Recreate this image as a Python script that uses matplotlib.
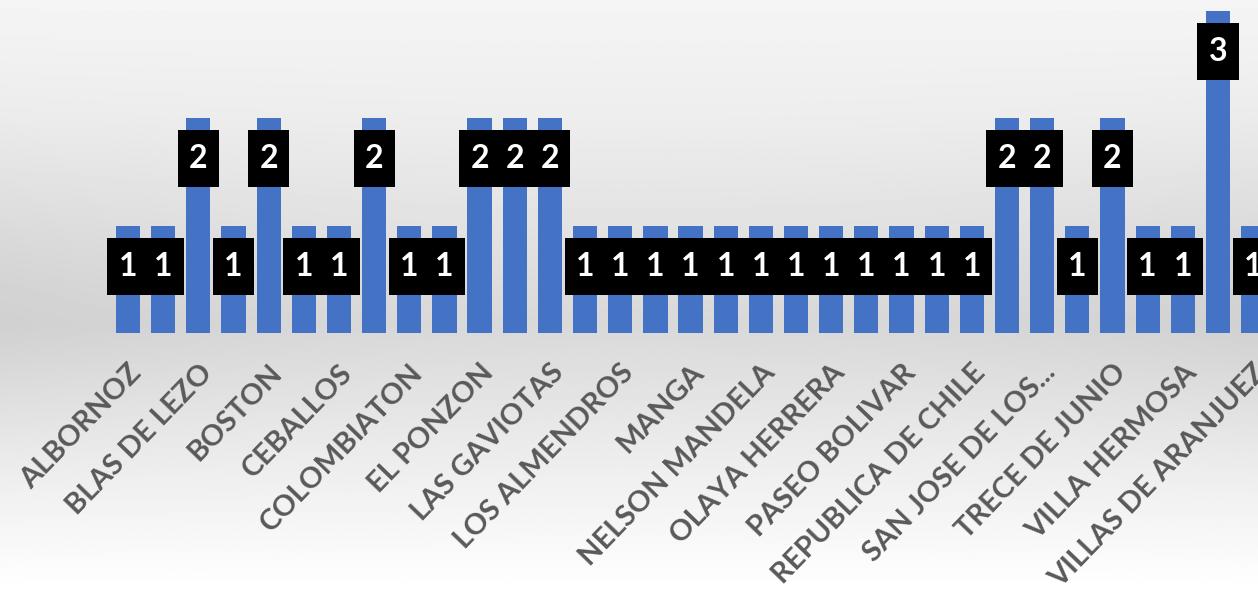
import numpy as np
import matplotlib.pyplot as plt

# barrios (every other label is hidden in the chart, those names are guesses)
barrios = ["ALBORNOZ", "BAYUNCA", "BLAS DE LEZO", "BOCAGRANDE", "BOSTON",
           "BRUSELAS", "CEBALLOS", "CHIQUINQUIRA", "COLOMBIATON", "EL BOSQUE",
           "EL PONZON", "LA ESPERANZA", "LAS GAVIOTAS", "LO AMADOR",
           "LOS ALMENDROS", "LOS CARACOLES", "MANGA", "MANZANILLO",
           "NELSON MANDELA", "NUEVO BOSQUE", "OLAYA HERRERA", "PASACABALLOS",
           "PASEO BOLIVAR", "PIE DE LA POPA", "REPUBLICA DE CHILE",
           "SAN FERNANDO", "SAN JOSE DE LOS...", "TERNERA", "TRECE DE JUNIO",
           "VILLA ESTRELLA", "VILLA HERMOSA", "VILLA ROSITA",
           "VILLAS DE ARANJUEZ"]
casos = [1, 1, 2, 1, 2, 1, 1, 2, 1, 1, 2, 2, 2, 1, 1, 1, 1, 1, 1, 1, 1, 1,
         1, 1, 1, 2, 2, 1, 2, 1, 1, 3, 1]

x = np.arange(len(casos))
v = np.array(casos, dtype=float)

fig = plt.figure(figsize=(12.58, 5.89), dpi=100)

# fondo degradado
bg = fig.add_axes([0, 0, 1, 1], zorder=0)
t = np.linspace(0, 1, 400)[:, None]
g = np.interp(t, [0, 0.2, 0.55, 0.75, 1.0], [0.96, 0.93, 0.85, 0.92, 1.0])
sx = np.linspace(-1, 1, 600)[None, :]
g = g - 0.035 * sx**2 * np.exp(-((t - 0.5) / 0.25)**2)
bg.imshow(np.clip(g, 0, 1), cmap='gray', vmin=0, vmax=1, aspect='auto',
          extent=[0, 1, 0, 1], origin='upper')
bg.axis('off')

ax = fig.add_axes([0, 1 - 333/589, 1, 333/589], zorder=1)
ax.patch.set_alpha(0)
ax.bar(x, v, width=0.69, color='#4472C4', zorder=2)

# etiquetas de datos: cajas negras con texto blanco
ax.bar(x, 0.53, bottom=v - 0.645, width=1.17, color='black', zorder=3)
for xi, vi in zip(x, casos):
    ax.text(xi, vi - 0.38, str(vi), color='white', fontsize=23,
            fontweight='bold', family='Lato', ha='center', va='center',
            zorder=4)

ax.set_xlim(-128/35.16, (1258-128)/35.16)
ax.set_ylim(0, 333/107.5)
ax.set_yticks([])
ax.set_xticks(x[::2])
ax.set_xticklabels(barrios[::2], fontsize=21, fontweight='bold',
                   family='Lato', color='#595959')
plt.setp(ax.get_xticklabels(), rotation=46, ha='right',
         rotation_mode='anchor')
ax.tick_params(axis='x', length=0, pad=19)
for s in ax.spines.values():
    s.set_visible(False)

fig.savefig('out.png', dpi=100)
